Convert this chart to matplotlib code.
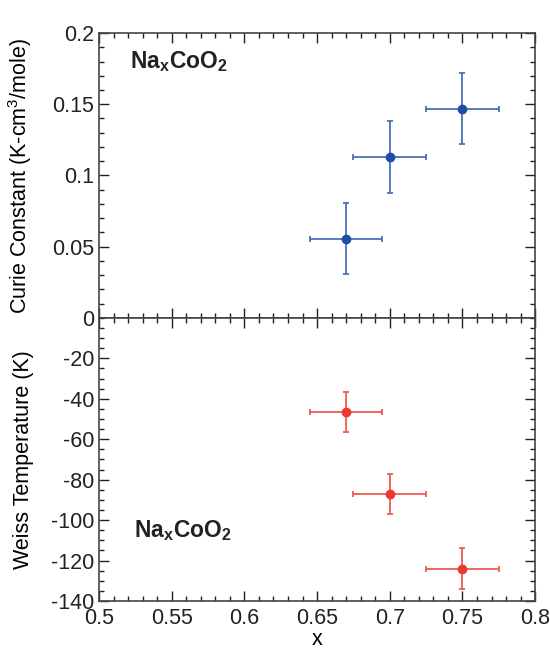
import matplotlib as mpl
mpl.use('Agg')
import matplotlib.pyplot as plt
import matplotlib.ticker as tick

plt.rcParams['font.family'] = ['Liberation Sans', 'DejaVu Sans']
plt.rcParams['axes.unicode_minus'] = False
plt.rcParams['mathtext.fontset'] = 'custom'
plt.rcParams['mathtext.rm'] = 'Liberation Sans'
plt.rcParams['mathtext.bf'] = 'Liberation Sans:bold'

# data
x_vals = [0.67, 0.70, 0.75]
x_err = [0.025, 0.025, 0.025]
curie = [0.0555, 0.113, 0.147]
curie_err = [0.025, 0.025, 0.025]
weiss = [-46.5, -87, -124]
weiss_err = [10, 10, 10]

blue = '#1f4ea6'
red = '#ec3a2e'
FS = 15.5


def style_ax(ax):
    ax.set_xlim(0.5, 0.8)
    ax.xaxis.set_major_locator(tick.MultipleLocator(0.05))
    ax.xaxis.set_minor_locator(tick.MultipleLocator(0.01))
    ax.tick_params(which='both', direction='in', top=True, bottom=True, left=True, right=True,
                   labelsize=FS, width=1, colors='#222222')
    ax.tick_params(which='major', length=7)
    ax.tick_params(which='minor', length=3.5)
    ax.tick_params(axis='x', pad=5)
    for s in ax.spines.values():
        s.set_color('#444444')
        s.set_linewidth(1.2)
    ax.xaxis.set_major_formatter(tick.FuncFormatter(lambda v, p: ('%g' % round(v, 2))))


fig = plt.figure(figsize=(5.5, 6.54), dpi=100)
ax1 = fig.add_axes([0.18, 0.514, 0.793, 0.4355])
ax2 = fig.add_axes([0.18, 0.081, 0.793, 0.433], sharex=ax1)

# top panel
ax1.errorbar(x_vals, curie, xerr=x_err, yerr=curie_err, fmt='o', color=blue, ecolor='#4a72b8',
             markersize=6, elinewidth=1.3, capsize=2.5, capthick=1.3)
style_ax(ax1)
ax1.set_ylim(0, 0.2)
ax1.yaxis.set_major_locator(tick.MultipleLocator(0.05))
ax1.yaxis.set_minor_locator(tick.MultipleLocator(0.01))
ax1.yaxis.set_major_formatter(tick.FuncFormatter(lambda v, p: ('%g' % round(v, 3))))
ax1.tick_params(labelbottom=False)
ax1.set_ylabel('Curie Constant (K-cm$^3$/mole)', fontsize=FS)
ax1.text(0.07, 0.9, 'Na$_\\mathbf{x}$CoO$_\\mathbf{2}$', transform=ax1.transAxes, fontsize=16.5,
         fontweight='bold', va='center', color='#222222')

# bottom panel
ax2.errorbar(x_vals, weiss, xerr=x_err, yerr=weiss_err, fmt='o', color=red, ecolor='#ee5a50',
             markersize=6, elinewidth=1.3, capsize=2.5, capthick=1.3)
style_ax(ax2)
ax2.set_ylim(-140, 0)
ax2.yaxis.set_major_locator(tick.FixedLocator(range(-140, 0, 20)))
ax2.yaxis.set_minor_locator(tick.MultipleLocator(5))
ax2.set_ylabel('Weiss Temperature (K)', fontsize=FS)
ax2.set_xlabel('x', fontsize=FS, labelpad=0)
ax2.text(0.08, 0.25, 'Na$_\\mathbf{x}$CoO$_\\mathbf{2}$', transform=ax2.transAxes, fontsize=16.5,
         fontweight='bold', va='center', color='#222222')

ax1.yaxis.set_label_coords(-0.15, 0.5)
ax2.yaxis.set_label_coords(-0.15, 0.5)

fig.savefig('out.png', dpi=100)
